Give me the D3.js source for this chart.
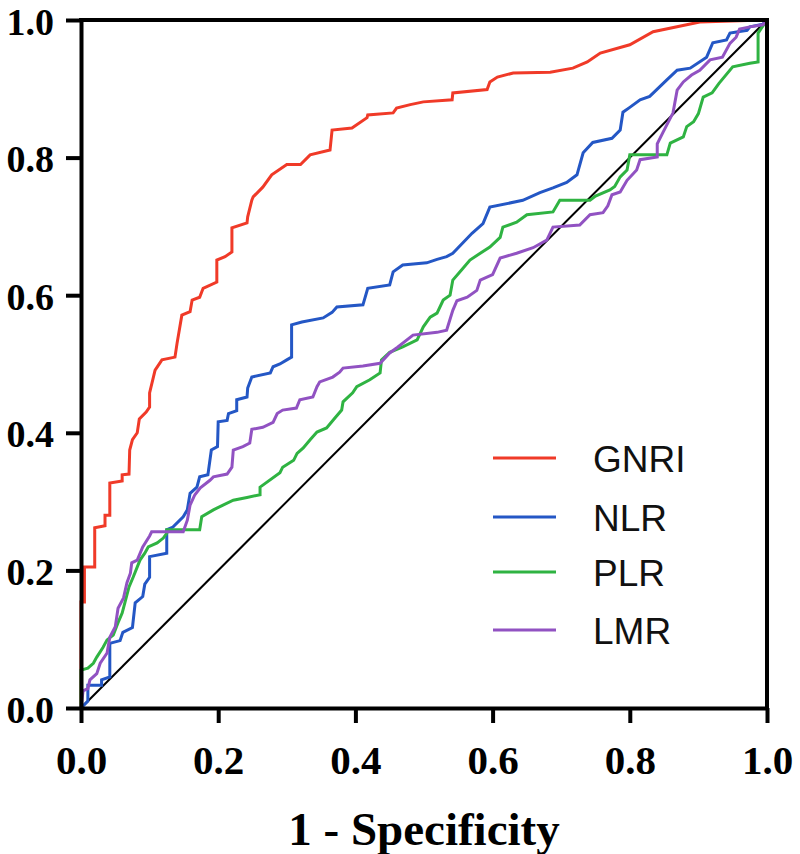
<!DOCTYPE html>
<html>
<head>
<meta charset="utf-8">
<script src="https://cdn.jsdelivr.net/npm/d3@7"></script>
<style>
  html, body { margin: 0; padding: 0; background: #fff; }
  svg { display: block; }
</style>
</head>
<body>
<svg id="chart" width="800" height="854"></svg>
<script>
// ---- Data ----
const seriesNames = ["GNRI", "NLR", "PLR", "LMR"];
const seriesColors = ["#f03a28", "#2457c5", "#2fb342", "#9152c2"];
const xTicks = [0, 0.2, 0.4, 0.6, 0.8, 1.0];
const yTicks = [0, 0.2, 0.4, 0.6, 0.8, 1.0];
const xTitle = "1 - Specificity";

const gnri = [[0,0],[0,0.154],[0.005,0.154],[0.005,0.205],[0.02,0.205],[0.02,0.262],[0.035,0.265],[0.035,0.28],[0.042,0.28],[0.042,0.327],[0.06,0.33],[0.06,0.339],[0.07,0.34],[0.071,0.375],[0.075,0.39],[0.082,0.40],[0.085,0.42],[0.095,0.43],[0.1,0.4375],[0.1,0.458],[0.108,0.491],[0.118,0.506],[0.137,0.51],[0.14,0.53],[0.147,0.571],[0.159,0.576],[0.162,0.593],[0.173,0.597],[0.178,0.61],[0.198,0.619],[0.198,0.651],[0.21,0.656],[0.22,0.663],[0.22,0.698],[0.242,0.705],[0.243,0.714],[0.249,0.738],[0.251,0.743],[0.265,0.757],[0.278,0.775],[0.3,0.79],[0.32,0.79],[0.334,0.804],[0.363,0.811],[0.366,0.84],[0.395,0.843],[0.417,0.858],[0.418,0.862],[0.455,0.865],[0.46,0.872],[0.48,0.877],[0.499,0.881],[0.541,0.884],[0.542,0.894],[0.592,0.899],[0.596,0.91],[0.607,0.917],[0.63,0.923],[0.684,0.924],[0.717,0.93],[0.738,0.939],[0.757,0.952],[0.8,0.964],[0.834,0.983],[0.902,0.997],[1,1]];

const nlr = [[0,0],[0.01,0.01],[0.01,0.033],[0.03,0.033],[0.03,0.041],[0.042,0.045],[0.042,0.094],[0.057,0.098],[0.061,0.11],[0.075,0.117],[0.079,0.153],[0.09,0.162],[0.093,0.18],[0.1,0.19],[0.1,0.22],[0.125,0.225],[0.125,0.259],[0.134,0.263],[0.149,0.278],[0.155,0.288],[0.159,0.312],[0.169,0.321],[0.173,0.336],[0.185,0.339],[0.19,0.375],[0.199,0.38],[0.2,0.416],[0.213,0.418],[0.215,0.428],[0.227,0.432],[0.227,0.448],[0.242,0.452],[0.243,0.465],[0.249,0.481],[0.276,0.487],[0.28,0.496],[0.29,0.5],[0.3,0.506],[0.307,0.51],[0.307,0.557],[0.322,0.561],[0.353,0.567],[0.366,0.575],[0.373,0.583],[0.411,0.586],[0.418,0.61],[0.45,0.615],[0.455,0.634],[0.469,0.644],[0.504,0.647],[0.519,0.652],[0.533,0.656],[0.542,0.661],[0.57,0.69],[0.586,0.704],[0.596,0.728],[0.644,0.738],[0.669,0.749],[0.688,0.756],[0.708,0.764],[0.723,0.775],[0.732,0.807],[0.746,0.822],[0.774,0.828],[0.786,0.84],[0.79,0.866],[0.8,0.873],[0.815,0.884],[0.829,0.889],[0.854,0.913],[0.869,0.927],[0.888,0.93],[0.912,0.946],[0.921,0.967],[0.941,0.971],[0.946,0.981],[0.971,0.985],[0.975,0.99],[0.994,0.994],[1,1]];

const plr = [[0,0],[0,0.055],[0.01,0.058],[0.018,0.065],[0.023,0.074],[0.032,0.088],[0.038,0.099],[0.047,0.106],[0.054,0.124],[0.06,0.138],[0.064,0.153],[0.07,0.176],[0.076,0.19],[0.086,0.215],[0.093,0.225],[0.098,0.234],[0.111,0.24],[0.12,0.247],[0.125,0.254],[0.125,0.259],[0.173,0.259],[0.176,0.278],[0.193,0.288],[0.207,0.295],[0.222,0.302],[0.242,0.306],[0.261,0.31],[0.261,0.321],[0.29,0.342],[0.294,0.35],[0.31,0.36],[0.315,0.37],[0.324,0.378],[0.334,0.39],[0.344,0.401],[0.358,0.407],[0.368,0.419],[0.38,0.433],[0.382,0.445],[0.396,0.458],[0.402,0.467],[0.421,0.477],[0.436,0.487],[0.438,0.506],[0.45,0.517],[0.469,0.525],[0.49,0.535],[0.499,0.554],[0.509,0.568],[0.519,0.574],[0.528,0.593],[0.538,0.6],[0.542,0.622],[0.555,0.637],[0.567,0.651],[0.582,0.661],[0.596,0.67],[0.611,0.684],[0.615,0.699],[0.635,0.706],[0.65,0.717],[0.688,0.721],[0.698,0.738],[0.742,0.738],[0.75,0.744],[0.771,0.753],[0.778,0.758],[0.786,0.772],[0.796,0.782],[0.8,0.804],[0.854,0.804],[0.859,0.821],[0.878,0.83],[0.883,0.845],[0.893,0.852],[0.9,0.864],[0.907,0.888],[0.92,0.894],[0.93,0.908],[0.95,0.932],[0.975,0.937],[0.987,0.939],[0.987,0.981],[1,1]];

const lmr = [[0,0],[0.003,0.025],[0.01,0.028],[0.013,0.041],[0.023,0.05],[0.028,0.065],[0.038,0.08],[0.042,0.103],[0.05,0.118],[0.054,0.145],[0.062,0.16],[0.067,0.182],[0.072,0.196],[0.074,0.211],[0.082,0.215],[0.09,0.234],[0.1,0.25],[0.103,0.256],[0.149,0.256],[0.155,0.273],[0.159,0.295],[0.166,0.31],[0.174,0.32],[0.188,0.331],[0.193,0.336],[0.213,0.34],[0.22,0.35],[0.222,0.375],[0.236,0.38],[0.246,0.385],[0.249,0.405],[0.265,0.408],[0.28,0.415],[0.286,0.428],[0.294,0.433],[0.314,0.436],[0.319,0.448],[0.338,0.452],[0.344,0.467],[0.348,0.474],[0.367,0.481],[0.377,0.488],[0.382,0.494],[0.411,0.497],[0.436,0.501],[0.45,0.516],[0.461,0.524],[0.484,0.542],[0.519,0.546],[0.533,0.549],[0.542,0.578],[0.548,0.592],[0.563,0.597],[0.577,0.607],[0.582,0.622],[0.6,0.63],[0.611,0.654],[0.635,0.661],[0.659,0.669],[0.679,0.68],[0.688,0.699],[0.727,0.702],[0.742,0.717],[0.761,0.72],[0.768,0.73],[0.774,0.746],[0.786,0.75],[0.796,0.767],[0.81,0.782],[0.815,0.797],[0.84,0.801],[0.84,0.82],[0.848,0.836],[0.863,0.865],[0.869,0.898],[0.878,0.91],[0.89,0.92],[0.902,0.927],[0.917,0.942],[0.935,0.946],[0.946,0.966],[0.955,0.975],[0.96,0.987],[0.975,0.99],[0.994,0.993],[1,1]];

const reference = [[0,0],[1,1]];
const seriesData = [gnri, nlr, plr, lmr];

// ---- Layout ----
const margin = {left: 81, right: 33, top: 20, bottom: 146};
const W = 800, H = 854;
const svg = d3.select("#chart");
const x = d3.scaleLinear().domain([0, 1]).range([margin.left, W - margin.right]);
const y = d3.scaleLinear().domain([0, 1]).range([H - margin.bottom, margin.top]);

const line = d3.line().x(d => x(d[0])).y(d => y(d[1]));

// diagonal reference
svg.append("path").datum(reference).attr("d", line)
  .attr("fill", "none").attr("stroke", "#000").attr("stroke-width", 2);

// curves
seriesData.forEach((s, i) => {
  svg.append("path").datum(s).attr("d", line)
    .attr("fill", "none").attr("stroke", seriesColors[i])
    .attr("stroke-width", 3).attr("stroke-linejoin", "miter");
});

// frame top & right
svg.append("line").attr("x1", x(0)).attr("x2", x(1)).attr("y1", y(1)).attr("y2", y(1))
  .attr("stroke", "#000").attr("stroke-width", 4).attr("stroke-linecap", "square");
svg.append("line").attr("x1", x(1)).attr("x2", x(1)).attr("y1", y(1)).attr("y2", y(0))
  .attr("stroke", "#000").attr("stroke-width", 4).attr("stroke-linecap", "square");

// axes
const fmt = d3.format(".1f");
const yAxis = svg.append("g").attr("transform", `translate(${x(0)},0)`)
  .call(d3.axisLeft(y).tickValues(yTicks).tickFormat(fmt).tickSize(15).tickSizeOuter(0).tickPadding(12));
const xAxis = svg.append("g").attr("transform", `translate(0,${y(0)})`)
  .call(d3.axisBottom(x).tickValues(xTicks).tickFormat(fmt).tickSize(15).tickSizeOuter(0).tickPadding(22));

[xAxis, yAxis].forEach(g => {
  g.select(".domain").attr("stroke", "#000").attr("stroke-width", 4);
  g.selectAll(".tick line").attr("stroke", "#000").attr("stroke-width", 4);
  g.selectAll(".tick text").attr("fill", "#000")
    .style("font-family", "'Liberation Serif', 'Times New Roman', serif")
    .style("font-weight", "bold");
});
yAxis.selectAll(".tick text").style("font-size", "38px").attr("dy", "0.37em");
xAxis.selectAll(".tick text").style("font-size", "41px");

// x title
svg.append("text").attr("x", (x(0) + x(1)) / 2).attr("y", 845)
  .attr("text-anchor", "middle")
  .style("font-family", "'Liberation Serif', 'Times New Roman', serif")
  .style("font-weight", "bold").style("font-size", "47px")
  .text(xTitle);

// legend
const legendY = [458, 517, 572, 630];
seriesNames.forEach((n, i) => {
  svg.append("line").attr("x1", 493).attr("x2", 556)
    .attr("y1", legendY[i]).attr("y2", legendY[i])
    .attr("stroke", seriesColors[i]).attr("stroke-width", 3);
  svg.append("text").attr("x", 593).attr("y", legendY[i] + 14)
    .style("font-family", "'Liberation Sans', Arial, sans-serif")
    .style("font-size", "37px").attr("fill", "#111")
    .text(n);
});
</script>
</body>
</html>
